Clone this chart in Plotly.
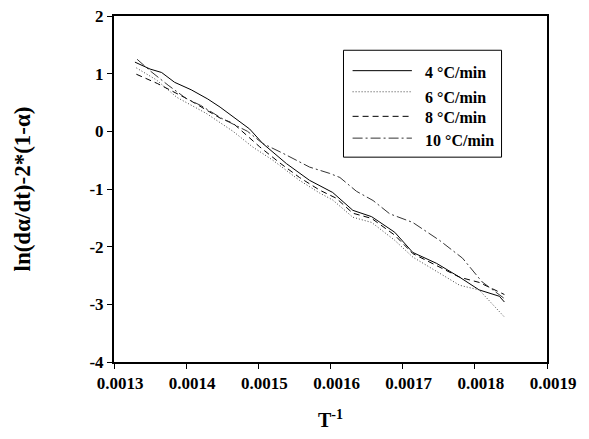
import plotly.graph_objects as go

# Data (x in K^-1)
x4 = [0.001329, 0.001350, 0.001366, 0.001384, 0.001407, 0.001430, 0.001447, 0.001465, 0.001488,
      0.001506, 0.001539, 0.001571, 0.001603, 0.001631, 0.001657, 0.001689, 0.001714, 0.001747,
      0.001779, 0.001806, 0.001834, 0.001841]
y4 = [1.20, 1.08, 1.02, 0.85, 0.72, 0.56, 0.42, 0.26, 0.04, -0.21, -0.56, -0.85, -1.06, -1.37,
      -1.48, -1.75, -2.10, -2.29, -2.53, -2.75, -2.86, -2.96]

x6 = [0.001331, 0.001359, 0.001387, 0.001428, 0.001465, 0.001492, 0.001520, 0.001557, 0.001585,
      0.001603, 0.001631, 0.001657, 0.001689, 0.001714, 0.001779, 0.001806, 0.001841]
y6 = [1.10, 0.89, 0.59, 0.31, 0.00, -0.27, -0.50, -0.85, -1.07, -1.19, -1.49, -1.58, -1.89,
      -2.18, -2.67, -2.75, -3.22]

x8 = [0.001331, 0.001360, 0.001405, 0.001447, 0.001465, 0.001502, 0.001530, 0.001557, 0.001585,
      0.001608, 0.001631, 0.001657, 0.001689, 0.001714, 0.001779, 0.001806, 0.001841]
y8 = [0.99, 0.83, 0.54, 0.23, 0.14, -0.27, -0.55, -0.80, -1.02, -1.16, -1.42, -1.51, -1.80,
      -2.12, -2.53, -2.62, -2.83]

x10 = [0.001332, 0.001350, 0.001375, 0.001400, 0.001420, 0.001450, 0.001485, 0.001506, 0.001534,
       0.001571, 0.001599, 0.001613, 0.001636, 0.001659, 0.001682, 0.001714, 0.001751, 0.001783,
       0.001810, 0.001841]
y10 = [1.25, 1.05, 0.80, 0.57, 0.45, 0.22, 0.00, -0.21, -0.38, -0.62, -0.73, -0.80, -1.04,
       -1.20, -1.43, -1.58, -1.89, -2.20, -2.61, -2.90]

series_names = ["4 \u00b0C/min", "6 \u00b0C/min", "8 \u00b0C/min", "10 \u00b0C/min"]
xs = [x4, x6, x8, x10]
ys = [y4, y6, y8, y10]
colors = ["#000000", "#444444", "#000000", "#333333"]
dashes = ["solid", "1px,2px", "6px,4px", "10px,3px,2px,3px"]

x_ticks = [0.0013, 0.0014, 0.0015, 0.0016, 0.0017, 0.0018, 0.0019]
x_tick_labels = ["0.0013", "0.0014", "0.0015", "0.0016", "0.0017", "0.0018", "0.0019"]
y_ticks = [-4, -3, -2, -1, 0, 1, 2]

FONT = "Liberation Serif, Times New Roman, serif"

fig = go.Figure()
for x, y, n, c, d in zip(xs, ys, series_names, colors, dashes):
    fig.add_trace(go.Scatter(x=x, y=y, mode="lines", name=n,
                             line=dict(color=c, width=1, dash=d), showlegend=False))

# Manual legend (box, sample lines, labels)
fig.add_shape(type="rect", xref="paper", yref="paper", x0=0.530, x1=0.895, y0=0.592, y1=0.901,
              line=dict(color="black", width=1), fillcolor="white", layer="below")
row_line_y = [0.842, 0.781, 0.710, 0.647]
row_text_y = [0.837, 0.765, 0.707, 0.641]
for ly, ty, n, c, d in zip(row_line_y, row_text_y, series_names, colors, dashes):
    fig.add_shape(type="line", xref="paper", yref="paper", x0=0.551, x1=0.688, y0=ly, y1=ly,
                  line=dict(color=c, width=1, dash=d))
    fig.add_annotation(xref="paper", yref="paper", x=0.713, y=ty, text="<b>%s</b>" % n,
                       showarrow=False, xanchor="left", yanchor="middle",
                       font=dict(family=FONT, size=16, color="black"))

# the page body keeps its default 8px margin, so the figure is sized to fit inside it
fig.update_layout(
    width=573, height=423,
    margin=dict(l=106, r=34, t=8, b=69),
    paper_bgcolor="white", plot_bgcolor="white",
    font=dict(family=FONT, size=17, color="black"),
    xaxis=dict(range=[0.0013, 0.0019], tickvals=x_ticks, ticktext=["<b>%s</b>" % t for t in x_tick_labels],
               showline=True, linecolor="black", linewidth=2, mirror=True,
               ticks="outside", ticklen=5, tickwidth=1, tickcolor="black", showgrid=False,
               zeroline=False, ticklabelshift=6, automargin=False, ticklabeloverflow="allow",
               tickfont=dict(family=FONT, size=17),
               title=dict(text="<b>T<sup>-1</sup></b>", font=dict(family=FONT, size=20), standoff=36)),
    yaxis=dict(range=[-4, 2], tickvals=y_ticks, ticktext=["<b>%d</b>" % v for v in y_ticks],
               showline=True, linecolor="black", linewidth=2, mirror=True,
               ticks="outside", ticklen=5, tickwidth=1, tickcolor="black", showgrid=False,
               zeroline=False, automargin=False, ticklabeloverflow="allow",
               tickfont=dict(family=FONT, size=17),
               title=dict(text="<b>ln(d\u03b1/dt)-2*(1-\u03b1)</b>", font=dict(family=FONT, size=23),
                          standoff=52)),
)

fig.write_html("out.html")
